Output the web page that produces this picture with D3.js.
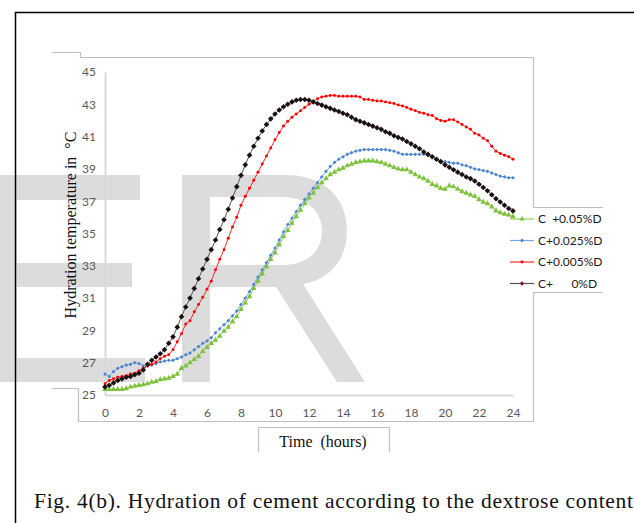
<!DOCTYPE html>
<html>
<head>
<meta charset="utf-8">
<script src="https://cdn.jsdelivr.net/npm/d3@7"></script>
<style>
  html, body { margin: 0; padding: 0; background: #fff; }
  svg { display: block; }
</style>
</head>
<body>
<svg width="634" height="523"></svg>
<script>
// データ (0〜24時間, 15分ごと)
const hours = d3.range(0, 24.001, 0.25);
const xTicks = [0, 2, 4, 6, 8, 10, 12, 14, 16, 18, 20, 22, 24];
const yTicks = [25, 27, 29, 31, 33, 35, 37, 39, 41, 43, 45];
const seriesNames = ["C  +0.05%D", "C+0.025%D", "C+0.005%D", "C+      0%D"];

const d005 = [25.35, 25.35, 25.35, 25.35, 25.35, 25.4, 25.5, 25.55, 25.6, 25.65, 25.7, 25.8, 25.85, 25.95, 26.0, 26.05,
  26.15, 26.3, 26.65, 26.8, 27.0, 27.2, 27.4, 27.7, 27.95, 28.2, 28.4, 28.65, 28.95, 29.2, 29.55, 29.85,
  30.3, 30.7, 31.1, 31.6, 32.05, 32.5, 32.95, 33.4, 33.8, 34.3, 34.8, 35.2, 35.65, 36.05, 36.45, 36.85,
  37.2, 37.5, 37.85, 38.15, 38.4, 38.65, 38.8, 38.95, 39.05, 39.2, 39.3, 39.4, 39.45, 39.5, 39.5, 39.5,
  39.45, 39.4, 39.3, 39.2, 39.1, 39.0, 38.95, 38.95, 38.8, 38.65, 38.5, 38.4, 38.25, 38.05, 37.95, 37.8,
  37.75, 37.95, 37.9, 37.75, 37.6, 37.5, 37.4, 37.3, 37.1, 36.95, 36.85, 36.65, 36.4, 36.3, 36.2, 36.15, 36.05];

const d0025 = [26.3, 26.15, 26.45, 26.65, 26.75, 26.85, 26.9, 27.0, 26.95, 26.8, 26.8, 26.85, 26.95, 27.05, 27.1, 27.15,
  27.15, 27.25, 27.35, 27.5, 27.6, 27.8, 28.0, 28.2, 28.35, 28.55, 28.85, 29.1, 29.35, 29.6, 29.9, 30.2,
  30.6, 31.0, 31.4, 31.85, 32.3, 32.75, 33.2, 33.65, 34.1, 34.6, 35.1, 35.55, 35.95, 36.35, 36.75, 37.1,
  37.45, 37.8, 38.15, 38.5, 38.85, 39.15, 39.4, 39.6, 39.75, 39.9, 40.0, 40.1, 40.15, 40.2, 40.2, 40.2,
  40.2, 40.2, 40.2, 40.15, 40.1, 40.0, 39.9, 39.9, 39.9, 39.9, 39.9, 39.9, 39.85, 39.75, 39.6, 39.5,
  39.45, 39.4, 39.35, 39.35, 39.25, 39.2, 39.1, 39.0, 38.95, 38.9, 38.85, 38.75, 38.65, 38.55, 38.5, 38.45, 38.45];

const d0005 = [25.7, 25.9, 26.0, 26.1, 26.15, 26.2, 26.3, 26.35, 26.5, 26.65, 26.8, 26.9, 27.05, 27.25, 27.4, 27.5,
  27.8, 28.3, 28.8, 29.4, 29.6, 30.15, 30.6, 31.05, 31.55, 32.05, 32.75, 33.4, 34.0, 34.7, 35.4, 36.0,
  36.75, 37.3, 37.8, 38.3, 38.8, 39.3, 39.8, 40.3, 40.8, 41.25, 41.65, 41.95, 42.2, 42.4, 42.6, 42.8,
  43.0, 43.15, 43.35, 43.45, 43.5, 43.55, 43.55, 43.5, 43.5, 43.5, 43.5, 43.5, 43.45, 43.3, 43.3, 43.25,
  43.2, 43.2, 43.15, 43.1, 43.05, 42.95, 42.9, 42.8, 42.7, 42.6, 42.5, 42.45, 42.35, 42.3, 42.1, 42.0,
  41.95, 42.05, 42.05, 41.9, 41.75, 41.6, 41.45, 41.2, 41.1, 40.9, 40.75, 40.4, 40.1, 39.95, 39.85, 39.75, 39.6];

const d0 = [25.5, 25.6, 25.75, 25.9, 26.0, 26.1, 26.15, 26.25, 26.35, 26.55, 26.9, 27.15, 27.35, 27.55, 27.8, 28.2,
  28.6, 29.2, 29.85, 30.45, 31.0, 31.6, 32.2, 32.8, 33.4, 34.0, 34.6, 35.25, 35.85, 36.5, 37.2, 37.9,
  38.6, 39.25, 39.85, 40.4, 40.9, 41.35, 41.75, 42.1, 42.4, 42.65, 42.85, 43.0, 43.15, 43.25, 43.3, 43.3,
  43.25, 43.15, 43.05, 42.95, 42.85, 42.75, 42.65, 42.55, 42.45, 42.35, 42.2, 42.05, 41.95, 41.85, 41.75, 41.65,
  41.55, 41.45, 41.3, 41.2, 41.05, 40.95, 40.85, 40.7, 40.55, 40.4, 40.25, 40.05, 39.9, 39.75, 39.6, 39.45,
  39.25, 39.1, 38.95, 38.8, 38.65, 38.5, 38.4, 38.25, 38.05, 37.85, 37.65, 37.4, 37.15, 36.95, 36.75, 36.55, 36.4];

const seriesValues = [d005, d0025, d0005, d0];

// 見た目の設定
const styles = [
  { line: "#92d050", mark: "#7dc23c", symbol: d3.symbolTriangle, size: 14 },
  { line: "#7aa8de", mark: "#4a83cc", symbol: d3.symbolDiamond2, size: 9 },
  { line: "#ff2a2a", mark: "#ff0000", symbol: d3.symbolCircle, size: 7 },
  { line: "#555555", mark: "#1c0f0f", symbol: d3.symbolDiamond2, size: 20 }
];

const svg = d3.select("svg");

// スケール
const x = d3.scaleLinear().domain([0, 24]).range([105, 513]);
const y = d3.scaleLinear().domain([25, 45]).range([395, 72]);

// 透かし (背景)
const wm = svg.append("g").attr("fill", "#dcdcdc");
wm.append("rect").attr("x", 0).attr("y", 175).attr("width", 17).attr("height", 207);
wm.append("rect").attr("x", 0).attr("y", 175).attr("width", 140).attr("height", 25);
wm.append("rect").attr("x", 0).attr("y", 263).attr("width", 132).attr("height", 24);
wm.append("rect").attr("x", 0).attr("y", 358).attr("width", 145).attr("height", 24);
wm.append("path")
  .attr("fill-rule", "evenodd")
  .attr("d", "M182,382 L182,175 L285,175 C326,175 347,199 347,231 C347,260 329,280 303,284 L365,382 L337,382 L276,287 L210,287 L210,382 Z " +
    "M210,197 L283,197 C306,197 322,211 322,231 C322,252 306,265 283,265 L210,265 Z");

// 枠線
svg.append("path")
  .attr("fill", "none").attr("stroke", "#000").attr("stroke-width", 1.5)
  .attr("d", "M15.5,523 L15.5,12.5 L634,12.5");

const frame = "#c0c0c0";
const frames = [
  "M52,52.5 L80.5,52.5 L80.5,57.5 L533.5,57.5 L533.5,207.5 L603,207.5",
  "M603,292.5 L533.5,292.5 L533.5,421.5 L78.5,421.5 L78.5,388.5 L52,388.5",
  "M258.5,452 L258.5,427.5 L389.5,427.5 L389.5,452"
];
svg.selectAll(".frame")
  .data(frames)
  .enter().append("path")
  .attr("class", "frame")
  .attr("fill", "none").attr("stroke", frame).attr("stroke-width", 1.2)
  .attr("d", d => d);

// 軸
const xAxis = svg.append("g")
  .attr("transform", "translate(0,395)")
  .call(d3.axisBottom(x).tickValues(xTicks).tickSize(0).tickPadding(13));
const yAxis = svg.append("g")
  .attr("transform", "translate(105,0)")
  .call(d3.axisLeft(y).tickValues(yTicks).tickSize(0).tickPadding(9));

[xAxis, yAxis].forEach(a => {
  a.select(".domain").attr("stroke", "#d9d9d9").attr("stroke-width", 2);
  a.selectAll("text")
    .attr("fill", "#595959")
    .style("font-family", "Lato, 'Open Sans', sans-serif")
    .style("font-size", "12px");
});

// 系列
const line = d3.line()
  .x((d, i) => x(hours[i]))
  .y(d => y(d));

seriesValues.forEach((vals, k) => {
  const s = styles[k];
  const g = svg.append("g");
  g.append("path")
    .attr("fill", "none")
    .attr("stroke", s.line)
    .attr("stroke-width", 1)
    .attr("d", line(vals));
  g.selectAll("path.mark")
    .data(vals)
    .enter().append("path")
    .attr("class", "mark")
    .attr("transform", (d, i) => `translate(${x(hours[i])},${y(d)})`)
    .attr("fill", s.mark)
    .attr("d", d3.symbol().type(s.symbol).size(s.size));
});

// 凡例
const legendY = [219, 240.5, 262, 283.5];
const legend = svg.selectAll(".legend")
  .data(seriesNames)
  .enter().append("g")
  .attr("class", "legend")
  .attr("transform", (d, i) => `translate(0,${legendY[i]})`);
legend.append("line")
  .attr("x1", 510).attr("x2", 534)
  .attr("stroke", (d, i) => styles[i].line)
  .attr("stroke-width", 1.2);
legend.append("path")
  .attr("transform", "translate(522,0)")
  .attr("fill", (d, i) => i === 3 ? "#7a1a1a" : styles[i].mark)
  .attr("d", (d, i) => d3.symbol().type(styles[i].symbol).size(Math.min(styles[i].size, 12))());
legend.append("text")
  .attr("x", 538)
  .attr("dy", "0.35em")
  .attr("fill", "#1a1a1a")
  .style("font-family", "Lato, 'Open Sans', sans-serif")
  .style("font-size", "12px")
  .style("white-space", "pre")
  .text(d => d);

// 軸タイトル
svg.append("text")
  .attr("x", 323).attr("y", 447)
  .attr("text-anchor", "middle")
  .style("font-family", "'Liberation Serif', serif")
  .style("font-size", "16px")
  .style("white-space", "pre")
  .attr("fill", "#111")
  .text("Time  (hours)");

svg.append("text")
  .attr("transform", "translate(76,225) rotate(-90)")
  .attr("text-anchor", "middle")
  .style("font-family", "'Liberation Serif', serif")
  .style("font-size", "16px")
  .style("white-space", "pre")
  .attr("fill", "#111")
  .text("Hydration temperature in  °C");

// キャプション
svg.append("text")
  .attr("x", 34).attr("y", 508)
  .attr("textLength", 599)
  .attr("lengthAdjust", "spacing")
  .style("font-family", "'Liberation Serif', serif")
  .style("font-size", "21.5px")
  .attr("fill", "#111")
  .text("Fig. 4(b). Hydration of cement according to the dextrose content");
</script>
</body>
</html>
